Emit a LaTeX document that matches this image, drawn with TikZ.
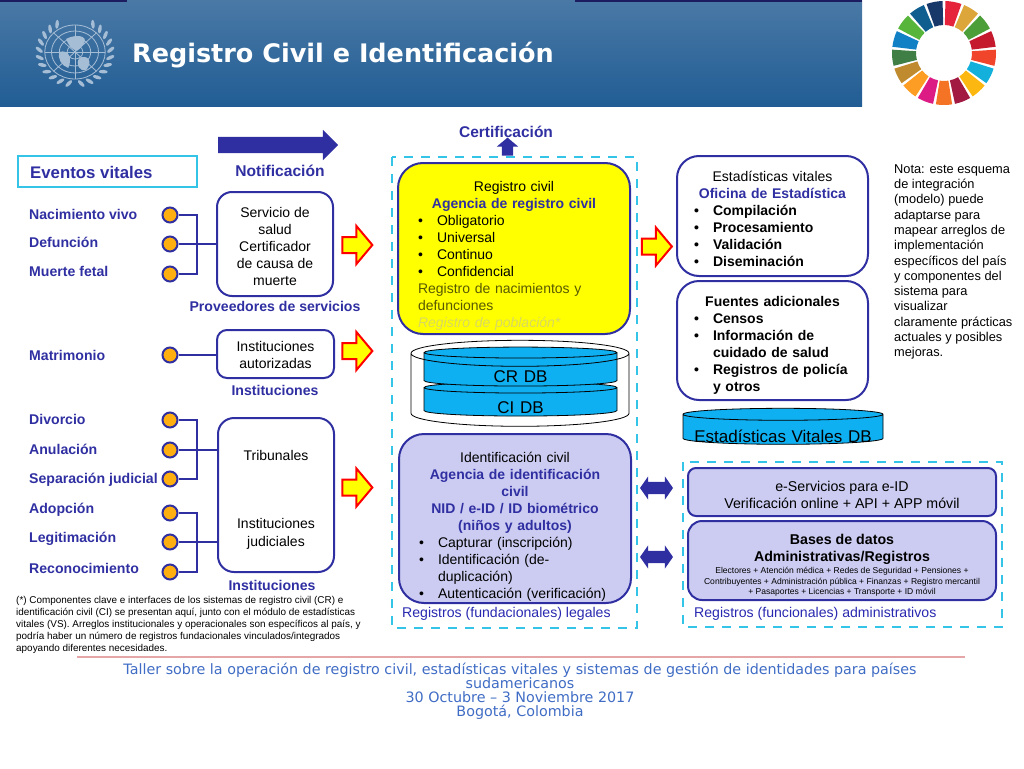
\documentclass[tikz,border=0pt]{standalone}
\usepackage{fontspec}
\setmainfont{Liberation Sans}
\newfontfamily\verdanafont{DejaVu Sans}
\usetikzlibrary{shapes.geometric, shapes.arrows}

\definecolor{navyline}{HTML}{2F2FA2}
\definecolor{skydash}{HTML}{33C4E8}
\definecolor{dotorange}{HTML}{FFB010}
\definecolor{lavender}{HTML}{CCCCF2}
\definecolor{dbblue}{HTML}{0FB0F2}
\definecolor{boxyellow}{RGB}{255,255,0}
\definecolor{headtop}{HTML}{4A79A6}
\definecolor{headbottom}{HTML}{215D94}
\definecolor{emblem}{HTML}{A6BDD6}
\definecolor{footblue}{HTML}{3F6CC4}

\newcommand{\boxfont}{\fontsize{14}{17}\selectfont}
\newcommand{\smallfont}{\fontsize{8.55}{10.3}\selectfont}
\newcommand{\bul}{\par\noindent\hangindent=19pt\hangafter=1\makebox[19pt][l]{\textbullet}}
\newcommand{\agencytext}[1]{\textcolor{navyline}{\textbf{#1}}}
\newcommand{\lowered}[2]{\smash{\raisebox{-#1}{#2}}}

\begin{document}
\begin{tikzpicture}[
    x=1pt, y=-1pt,
    font=\rmfamily,
    panel/.style={rectangle, draw=navyline, line width=2pt, inner sep=0pt, font=\boxfont},
    textpanel/.style={panel, text width=#1, align=left},
    event/.style={anchor=west, inner sep=0pt, text height=12pt, text depth=2pt, text=navyline, font=\fontsize{14.1}{16}\selectfont\bfseries},
    dot/.style={circle, draw=navyline, line width=2pt, fill=dotorange, minimum size=15pt, inner sep=0pt},
    link/.style={draw=navyline, line width=2pt},
    heading/.style={inner sep=0pt, text=navyline, font=\fontsize{14.1}{16}\selectfont\bfseries},
    legal/.style={anchor=west, inner sep=0pt, text=navyline!85!blue, font=\fontsize{14.1}{16}\selectfont},
    dashbox/.style={rectangle, draw=skydash, line width=2.5pt, dash pattern=on 9pt off 8pt},
    redarrow/.style={single arrow, draw=red, fill=boxyellow, line width=2pt, inner sep=0pt, text height=14pt, text depth=0pt, minimum height=30pt, minimum width=37pt, single arrow head extend=11pt, single arrow tip angle=100},
    duplex/.style={double arrow, fill=navyline, inner sep=0pt, text height=12pt, text depth=0pt, minimum height=33pt, minimum width=23pt, double arrow head extend=5.5pt, double arrow tip angle=110},
    dbase/.style={cylinder, shape border rotate=90, draw=black, fill=dbblue, line width=0.8pt, inner sep=0pt, align=center, font=\fontsize{17}{19}\selectfont}
]
\useasboundingbox (0,0) rectangle (1024,768);

% --- Header ---
\shade [top color=headtop, bottom color=headbottom] (0,0) rectangle (862,106);
\fill [navyline!60!black] (0,0) rectangle (127,2);
\fill [navyline!60!black] (575,0) rectangle (862,2);
\node (title) at (343,55) [inner sep=0pt, text=white, font=\verdanafont\fontsize{25.5}{28}\selectfont\bfseries] {Registro Civil e Identificación};

% UN emblem
\begin{scope}[shift={(75,52)}, x=1.12pt, y=1pt, emblem, line width=0.8pt]
  \foreach \rad in {7, 14, 21, 27}
    \draw (0,0) circle [x radius=\rad*1.12pt, y radius=\rad*1pt];
  \foreach \ang in {0, 45, ..., 315}
    \draw (0,0) -- (\ang:27);
  \fill (-8,13) .. controls (4,20) and (14,14) .. (6,6) .. controls (2,-2) and (-4,2) .. (-8,13);
  \fill (-14,0) .. controls (-6,3) and (-2,-6) .. (-6,-16) .. controls (-12,-14) and (-16,-6) .. (-14,0);
  \fill (4,-6) .. controls (12,-2) and (16,-10) .. (10,-18) .. controls (4,-20) and (0,-12) .. (4,-6);
  % wreath
  \foreach \ang in {-80, -66, ..., 62}
    \fill [shift={(\ang:32)}, rotate=\ang+35] (0,0) ellipse [x radius=4.5pt, y radius=1.8pt];
  \foreach \ang in {260, 246, ..., 118}
    \fill [shift={(\ang:32)}, rotate=\ang-35] (0,0) ellipse [x radius=4.5pt, y radius=1.8pt];
\end{scope}

% SDG ring
\begin{scope}[shift={(944,53)}, x=1pt, y=1pt]
  \foreach \ringcolor [count=\ringidx] in {E5243B, DDA63A, 4C9F38, C5192D, F0452B, 14B0DC, FCB811, A21942, F57325, DD1B84, FD9D24, BF8B2E, 3F7E44, 1180C4, 56B53A, 0F5E8F, 19386A} {
    \definecolor{wedge}{HTML}{\ringcolor}
    \pgfmathsetmacro{\angA}{90-21.176*(\ringidx-1)-1.6}
    \pgfmathsetmacro{\angB}{90-21.176*\ringidx+1.6}
    \fill [wedge] (\angA:52pt) arc (\angA:\angB:52pt) -- (\angB:28pt) arc (\angB:\angA:28pt) -- cycle;
  }
\end{scope}

% --- Left column ---
\node (eventos) at (107.5,171.5) [rectangle, draw=skydash, line width=2.5pt, minimum width=179pt, minimum height=31pt, inner sep=0pt] {};
\node (eventostxt) at (30,172) [anchor=west, inner sep=0pt, text=navyline, font=\fontsize{16.8}{18}\selectfont\bfseries] {Eventos vitales};

\node (notif) at (274,145) [single arrow, fill=navyline, inner sep=0pt, text height=16pt, text depth=0pt, minimum height=120pt, minimum width=30pt, single arrow head extend=7pt, single arrow tip angle=90] {};
\node (notiftxt) at (280,171) [heading, font=\fontsize{15.6}{17}\selectfont\bfseries] {Notificación};

\node (nac) at (29,214) [event] {Nacimiento vivo};
\node (def) at (29,242) [event] {Defunción};
\node (fet) at (29,271) [event] {Muerte fetal};
\node (mat) at (29,355) [event] {Matrimonio};
\node (div) at (29,419) [event] {Divorcio};
\node (anu) at (29,449) [event] {Anulación};
\node (sep) at (29,478) [event] {Separación judicial};
\node (ado) at (29,508) [event] {Adopción};
\node (leg) at (29,537) [event] {Legitimación};
\node (rec) at (29,568) [event] {Reconocimiento};

\node (servicio) at (275,244) [panel, rounded corners=15pt, minimum width=116pt, minimum height=104pt, align=center] {\rule{0pt}{16pt}Servicio de\\salud\\Certificador\\de causa de\\muerte};
\node (autorizadas) at (275.5,354) [panel, rounded corners=10pt, minimum width=117pt, minimum height=48pt, align=center] {\rule{0pt}{12pt}Instituciones\\autorizadas};
\node (tribunales) at (276,495) [panel, rounded corners=16pt, minimum width=116pt, minimum height=154pt, align=center] {\rule{0pt}{20pt}Tribunales\\[51pt]Instituciones\\[0.5pt]judiciales};

\node (provtxt) at (275,306.5) [heading] {Proveedores de servicios};
\node (insta) at (275,390) [heading] {Instituciones};
\node (instb) at (272,585) [heading] {Instituciones};

% dots and hubs
\node (dnac) at (170,215) [dot] {};
\node (ddef) at (170,244) [dot] {};
\node (dfet) at (170,274) [dot] {};
\node (dmat) at (170,355) [dot] {};
\node (ddiv) at (170,420) [dot] {};
\node (danu) at (170,450) [dot] {};
\node (dsep) at (170,479) [dot] {};
\node (dado) at (170,513) [dot] {};
\node (dleg) at (170,542) [dot] {};
\node (drec) at (170,572) [dot] {};
\coordinate (huba) at (197,244);
\coordinate (hubb) at (197,450);
\coordinate (hubc) at (197,542);

\draw [link] (dnac) -| (huba) |- (dfet);
\draw [link] (ddef) -- (servicio.west |- ddef);
\draw [link] (dmat) -- (autorizadas.west |- dmat);
\draw [link] (ddiv) -| (hubb) |- (dsep);
\draw [link] (danu) -- (tribunales.west |- danu);
\draw [link] (dado) -| (hubc) |- (drec);
\draw [link] (dleg) -- (tribunales.west |- dleg);

\node (footnote) at (16,625) [anchor=west, inner sep=0pt, align=left, font=\fontsize{9.93}{12}\selectfont] {(*) Componentes clave e interfaces de los sistemas de registro civil (CR) e\\identificación civil (CI) se presentan aquí, junto con el módulo de estadísticas\\vitales (VS). Arreglos institucionales y operacionales son específicos al país, y\\podría haber un número de registros fundacionales vinculados/integrados\\apoyando diferentes necesidades.};

% --- Red arrows ---
\node (flowa) at (354,245) [redarrow] {};
\node (flowb) at (354,351) [redarrow] {};
\node (flowc) at (354,487.5) [redarrow] {};
\node (flowd) at (653.5,246.5) [redarrow] {};

% --- Center column ---
\draw [dashbox] (392,157) rectangle (637,628);
\node (certtxt) at (506,132) [heading, font=\fontsize{15.5}{17}\selectfont\bfseries] {Certificación};
\node (certup) at (507.5,149) [single arrow, shape border rotate=90, fill=navyline, inner sep=0pt, text width=11pt, minimum height=18pt, minimum width=21pt, single arrow head extend=5pt, single arrow tip angle=100] {};

\node (registro) at (514,248.5) [textpanel=192pt, fill=boxyellow, rounded corners=25pt, minimum width=232pt, minimum height=171pt] {\centering\rule{0pt}{25pt}Registro civil\\ \agencytext{Agencia de registro civil}\par\raggedright\bul Obligatorio\bul Universal\bul Continuo\bul Confidencial\par\noindent\textcolor{black!65!boxyellow}{Registro de nacimientos y defunciones}\par\noindent\textcolor{boxyellow!55!white!85!black}{\itshape Registro de población*}};

\node (cidb) at (520.5,402) [dbase, text width=183pt, aspect=0.06, minimum width=193pt, minimum height=34pt] {\lowered{11pt}{CI DB}};
\node (crdb) at (520.5,369.5) [dbase, text width=183pt, aspect=0.06, minimum width=193pt, minimum height=39pt] {\lowered{13pt}{CR DB}};
\node (outerdb) at (520,390) [cylinder, shape border rotate=90, draw=black, line width=0.8pt, inner sep=0pt, text width=208pt, aspect=0.125, minimum width=218pt, minimum height=86pt] {};

\node (identif) at (515,518.5) [textpanel=192pt, fill=lavender, rounded corners=25pt, minimum width=232pt, minimum height=169pt] {\centering\rule{0pt}{27pt}Identificación civil\\ \agencytext{Agencia de identificación}\\ \agencytext{civil}\\ \agencytext{NID / e-ID / ID biométrico}\\ \agencytext{(niños y adultos)}\par\raggedright\bul Capturar (inscripción)\bul Identificación (de-\newline duplicación)\bul Autenticación (verificación)};

\node (legales) at (402,614) [legal] {Registros (fundacionales) legales};

\node (dupa) at (656.5,488) [duplex] {};
\node (dupb) at (656.5,557) [duplex] {};

% --- Right column ---
\node (estad) at (772.5,216) [textpanel=157pt, rounded corners=22pt, minimum width=191pt, minimum height=120pt] {\centering\rule{0pt}{16pt}Estadísticas vitales\\ \agencytext{Oficina de Estadística}\par\raggedright\bfseries\bul Compilación\bul Procesamiento\bul Validación\bul Diseminación};
\node (fuentes) at (772.5,340.5) [textpanel=157pt, rounded corners=22pt, minimum width=191pt, minimum height=119pt] {\bfseries\centering\rule{0pt}{20pt}Fuentes adicionales\par\raggedright\bul Censos\bul Información de\newline cuidado de salud\bul Registros de policía\newline y otros\par};
\node (vitaldb) at (783,429.5) [dbase, text width=190pt, aspect=0.063, minimum width=200pt, minimum height=36pt] {\lowered{12.5pt}{Estadísticas Vitales DB}};

\node (nota) at (894,262) [anchor=west, inner sep=0pt, align=left, font=\fontsize{12.8}{15.3}\selectfont] {Nota: este esquema\\de integración\\(modelo) puede\\adaptarse para\\mapear arreglos de\\implementación\\específicos del país\\y componentes del\\sistema para\\visualizar\\claramente prácticas\\actuales y posibles\\mejoras.};

\draw [dashbox] (683,462) rectangle (1002,627);
\node (eserv) at (842,492) [panel, fill=lavender, rounded corners=8pt, minimum width=308pt, minimum height=48pt, align=center, font=\fontsize{14.2}{17}\selectfont] {\rule{0pt}{17pt}e-Servicios para e-ID\\Verificación online + API + APP móvil};
\node (bases) at (842,560.5) [panel, fill=lavender, rounded corners=14pt, minimum width=308pt, minimum height=79pt, align=center, font=\fontsize{14.2}{17}\selectfont] {\rule{0pt}{20pt}\textbf{Bases de datos}\\\textbf{Administrativas/Registros}\\[-5pt]\smallfont Electores + Atención médica + Redes de Seguridad + Pensiones +\\[-6.5pt]\smallfont Contribuyentes + Administración pública + Finanzas + Registro mercantil\\[-6.5pt]\smallfont + Pasaportes + Licencias + Transporte + ID móvil};
\node (admin) at (694,614) [legal] {Registros (funcionales) administrativos};

% --- Footer ---
\coordinate (rulea) at (77,657);
\coordinate (ruleb) at (965,657);
\draw [red!70!black!35!white, line width=1.4pt] (rulea) -- (ruleb);
\node (taller) at (520,691) [inner sep=0pt, align=center, text=footblue, font=\verdanafont\fontsize{14.3}{14}\selectfont] {Taller sobre la operación de registro civil, estadísticas vitales y sistemas de gestión de identidades para países\\sudamericanos\\30 Octubre – 3 Noviembre 2017\\Bogotá, Colombia};

\end{tikzpicture}
\end{document}
